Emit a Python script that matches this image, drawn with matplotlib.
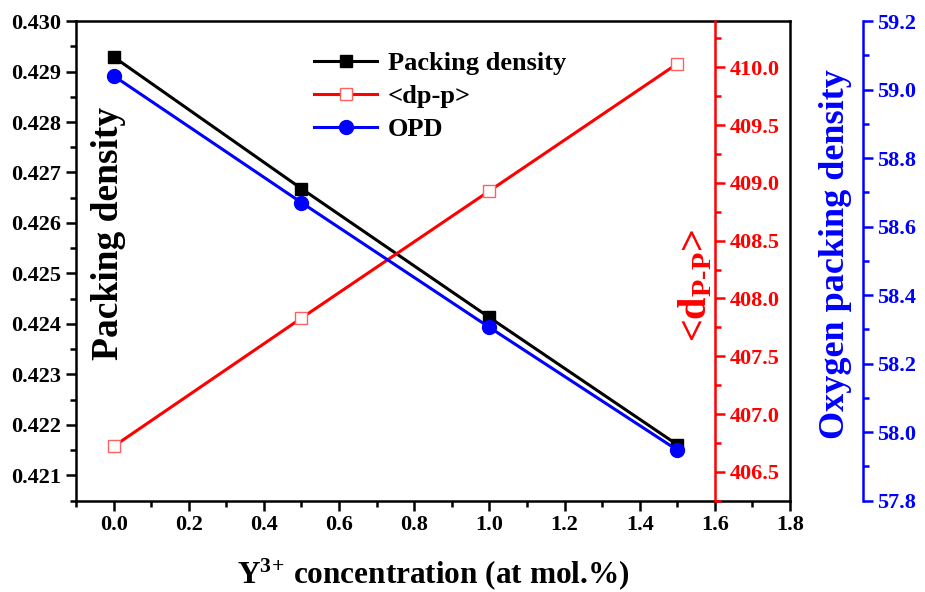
import numpy as np
import matplotlib
matplotlib.use("Agg")
import matplotlib.pyplot as plt
from matplotlib.ticker import MultipleLocator

plt.rcParams['font.family'] = ['Liberation Serif', 'DejaVu Serif']
plt.rcParams['font.weight'] = 'bold'
plt.rcParams['axes.labelweight'] = 'bold'
plt.rcParams['mathtext.fontset'] = 'custom'
plt.rcParams['mathtext.rm'] = 'Liberation Serif:bold'
plt.rcParams['mathtext.it'] = 'Liberation Serif:bold'
plt.rcParams['mathtext.bf'] = 'Liberation Serif:bold'
plt.rcParams['mathtext.default'] = 'rm'

# data
conc = [0.0, 0.5, 1.0, 1.5]
packing = [0.42929, 0.42668, 0.42413, 0.42161]
dpp = [406.72, 407.83, 408.93, 410.03]
opd = [59.04, 58.67, 58.306, 57.948]

fig = plt.figure(figsize=(9.25, 5.92), dpi=100)
ax = fig.add_axes([0.0822, 0.1542, 0.7718, 0.8103])
ax2 = ax.twinx()
ax3 = ax.twinx()

lw_sp = 1.8
tick_fs = 16
l1, = ax.plot(conc, packing, color='black', lw=2.2, marker='s', ms=8,
              label='Packing density')
l2, = ax2.plot(conc, dpp, color='red', lw=2.2, marker='s', ms=9, mfc='white',
               mec='#ff6060', mew=1.0, label='<dp-p>')
l3, = ax3.plot(conc, opd, color='blue', lw=2.2, marker='o', ms=10,
               label='OPD')

# host axis
ax.set_xlim(-0.1, 1.8)
ax.set_ylim(0.4205, 0.430)
ax.xaxis.set_major_locator(MultipleLocator(0.2))
ax.xaxis.set_minor_locator(MultipleLocator(0.1))
ax.yaxis.set_major_locator(MultipleLocator(0.001))
ax.yaxis.set_minor_locator(MultipleLocator(0.0005))
ax.xaxis.set_major_formatter(plt.FormatStrFormatter('%.1f'))
ax.yaxis.set_major_formatter(plt.FormatStrFormatter('%.3f'))
ax.tick_params(which='both', direction='out', width=lw_sp, labelsize=tick_fs,
               top=False, right=False)
ax.tick_params(which='major', length=7)
ax.tick_params(which='minor', length=4)
for s in ax.spines.values():
    s.set_linewidth(lw_sp)
ax.set_xlabel(r'Y$^{3\!+\!}$ concentration (at mol.%)', fontsize=22.5,
              fontweight='bold', labelpad=15)
ax.text(0.045, 0.558, 'Packing density', transform=ax.transAxes, rotation=90,
        fontsize=27, ha='center', va='center')

# red axis at x = 1.6
for name in ['top', 'left', 'bottom']:
    ax2.spines[name].set_visible(False)
ax2.spines['right'].set_position(('data', 1.6))
ax2.spines['right'].set_color('red')
ax2.spines['right'].set_linewidth(lw_sp)
ax2.set_ylim(406.25, 410.4)
ax2.yaxis.set_major_locator(MultipleLocator(0.5))
ax2.yaxis.set_minor_locator(MultipleLocator(0.25))
ax2.yaxis.set_major_formatter(plt.FormatStrFormatter('%.1f'))
ax2.tick_params(which='both', direction='out', width=lw_sp, colors='red',
                labelsize=tick_fs)
ax2.tick_params(which='major', length=7)
ax2.tick_params(which='minor', length=4)
ax.text(1.55, 0.42477, r'<d$_{\rm P\text{-}P}$>', rotation=90, color='red',
        fontsize=29, ha='center', va='center')

# blue axis
for name in ['top', 'left', 'bottom']:
    ax3.spines[name].set_visible(False)
ax3.spines['right'].set_position(('axes', 1.102))
ax3.spines['right'].set_color('blue')
ax3.spines['right'].set_linewidth(lw_sp)
ax3.set_ylim(57.8, 59.2)
ax3.yaxis.set_major_locator(MultipleLocator(0.2))
ax3.yaxis.set_minor_locator(MultipleLocator(0.1))
ax3.yaxis.set_major_formatter(plt.FormatStrFormatter('%.1f'))
ax3.tick_params(which='both', direction='out', width=lw_sp, colors='blue',
                labelsize=tick_fs)
ax3.tick_params(which='major', length=7)
ax3.tick_params(which='minor', length=4)
fig.text(0.903, 0.57, 'Oxygen packing density', rotation=90, color='blue',
         fontsize=26, ha='center', va='center')

leg = ax3.legend(handles=[l1, l2, l3], loc='upper left',
                 bbox_to_anchor=(0.3, 0.985), frameon=False, fontsize=19,
                 handlelength=2.4, handletextpad=0.4, labelspacing=0.35)

fig.savefig('out.png', dpi=100)
